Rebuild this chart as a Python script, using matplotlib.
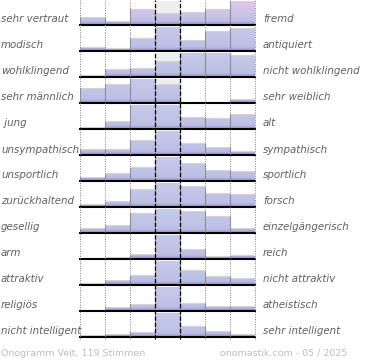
import numpy as np
import matplotlib
matplotlib.use('Agg')
import matplotlib.pyplot as plt
from matplotlib.path import Path
from matplotlib.colors import LinearSegmentedColormap

# figure size in pixels
W, H = 370, 360

left_labels = ['sehr vertraut', 'modisch', 'wohlklingend', 'sehr männlich', ' jung',
               'unsympathisch', 'unsportlich', 'zurückhaltend', 'gesellig', 'arm',
               'attraktiv', 'religiös', 'nicht intelligent']
right_labels = ['fremd', 'antiquiert', 'nicht wohlklingend', 'sehr weiblich', 'alt',
                'sympathisch', 'sportlich', 'forsch', 'einzelgängerisch', 'reich',
                'nicht attraktiv', 'atheistisch', 'sehr intelligent']

# share of votes per scale step, relative to the biggest step of each row (%)
votes = [
    [32, 15, 64, 49, 51, 64, 100],
    [14, 10, 53, 100, 43, 80, 94],
    [7, 32, 36, 63, 100, 100, 90],
    [60, 76, 100, 75, 0, 0, 14],
    [7, 30, 100, 100, 49, 43, 61],
    [24, 24, 61, 100, 49, 32, 15],
    [15, 30, 55, 100, 71, 45, 40],
    [11, 22, 74, 100, 83, 55, 50],
    [18, 32, 80, 100, 89, 68, 18],
    [0, 5, 17, 100, 40, 9, 13],
    [8, 17, 38, 100, 58, 35, 29],
    [4, 13, 29, 100, 33, 17, 17],
    [7, 12, 20, 100, 43, 24, 11],
]

footer_left = 'Onogramm Veit, 119 Stimmen'
footer_right = 'onomastik.com - 05 / 2025'

fig = plt.figure(figsize=(W / 100, H / 100), dpi=100)

x0, x1 = 80, 255      # chart area (px)
first_base = 25       # baseline of first row (px from top)
row_step = 26
bar_h = 24.5

cm_blue = LinearSegmentedColormap.from_list('blue', [
    (0.0, '#9a8cc4'), (0.07, '#aba2d4'), (0.16, '#bcc0e5'), (1.0, '#c6cbea')])
cm_pink = LinearSegmentedColormap.from_list('pink', [
    (0.0, '#9a8cc4'), (0.07, '#aba2d4'), (0.16, '#bfbfe5'), (0.5, '#cdc5e7'), (1.0, '#e2c9ea')])

xs = np.arange(7)
for i, vals in enumerate(votes):
    vals = np.array(vals, dtype=float)
    base = first_base + row_step * i
    ax = fig.add_axes([x0 / W, 1 - base / H, (x1 - x0) / W, bar_h / H])
    ax.axis('off')

    ax.axvspan(3, 4, color='#eeeeee', zorder=0, lw=0)
    bars = ax.bar(xs, vals, width=1, align='edge', color='#c3c9e9', lw=0, zorder=1)

    # vertical gradient clipped to the bars
    grad = np.linspace(0, 1, 100).reshape(-1, 1)
    im = ax.imshow(grad, extent=(0, 7, 0, 100), origin='lower', aspect='auto',
                   cmap=cm_pink if i == 0 else cm_blue, zorder=2)
    paths = [b.get_patch_transform().transform_path(b.get_path()) for b in bars]
    im.set_clip_path(Path.make_compound_path(*paths), ax.transData)

    m = vals > 0
    ax.hlines(vals[m] + 1.5, xs[m], xs[m] + 1, color='#d4d4d4', lw=0.8, zorder=3)
    ax.vlines(xs[m], 0, vals[m], color='#9c9c9c', lw=0.8, zorder=3)
    ax.vlines(xs[m] + 1, 0, vals[m], color='#9c9c9c', lw=0.8, zorder=3)
    ax.axhline(0, color='black', lw=1.5, zorder=4, clip_on=False)

    ax.set_xlim(0, 7)
    ax.set_ylim(0, 100)

    ty = 1 - (base - 2.5) / H
    fig.text(1 / W, ty, left_labels[i], ha='left', va='baseline', style='italic',
             fontsize=7.4, color='#606060')
    fig.text(263 / W, ty, right_labels[i], ha='left', va='baseline', style='italic',
             fontsize=7.4, color='#606060')

# vertical grid over everything
ov = fig.add_axes([x0 / W, 1 - 339 / H, (x1 - x0) / W, 339 / H])
ov.patch.set_visible(False)
ov.axis('off')
ov.set_xlim(0, 7)
ov.set_ylim(0, 1)
ov.vlines([0, 1, 2, 5, 6, 7], 0, 1, colors='#7a7a7a', linestyles=(0, (1, 1.5)),
          lw=0.7, clip_on=False)
ov.vlines([3, 4], 0, 1, colors='black', linestyles=(0, (3.5, 1.5)), lw=0.9, clip_on=False)

fig.text(1 / W, 1 - 356 / H, footer_left, ha='left', va='baseline', fontsize=6.8,
         color='#bdbdbd')
fig.text(347 / W, 1 - 356 / H, footer_right, ha='right', va='baseline', fontsize=6.8,
         color='#bdbdbd')

fig.savefig('out.png', dpi=100)
